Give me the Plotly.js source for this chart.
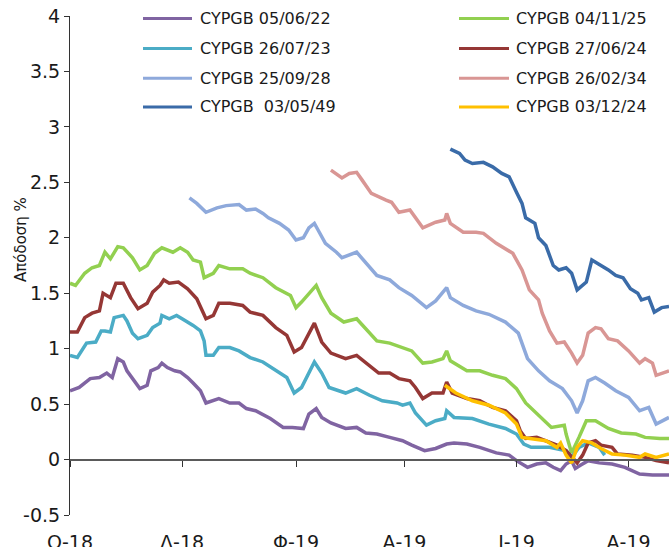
<!DOCTYPE html>
<html>
<head>
<meta charset="utf-8">
<script src="https://cdn.plot.ly/plotly-3.0.1.min.js"></script>
<style>html,body{margin:0;padding:0;background:#fff;}#chart{width:669px;height:547px;}</style>
</head>
<body>
<div id="chart"></div>
<script>
// ---- Data ----
const bondNames = ["CYPGB 05/06/22","CYPGB 04/11/25","CYPGB 26/07/23","CYPGB 27/06/24",
                   "CYPGB 25/09/28","CYPGB 26/02/34","CYPGB\u00a0 03/05/49","CYPGB 03/12/24"];

const dates_220605 = ["2018-10-01","2018-10-06","2018-10-12","2018-10-17","2018-10-21","2018-10-24","2018-10-27","2018-10-30","2018-11-01","2018-11-04","2018-11-08","2018-11-12","2018-11-14","2018-11-18","2018-11-20","2018-11-23","2018-11-27","2018-11-30","2018-12-04","2018-12-07","2018-12-11","2018-12-14","2018-12-21","2018-12-27","2019-01-01","2019-01-05","2019-01-10","2019-01-18","2019-01-25","2019-01-30","2019-02-05","2019-02-08","2019-02-12","2019-02-15","2019-02-20","2019-02-28","2019-03-06","2019-03-11","2019-03-17","2019-03-24","2019-03-31","2019-04-05","2019-04-12","2019-04-18","2019-04-24","2019-04-28","2019-05-05","2019-05-12","2019-05-21","2019-05-28","2019-06-01","2019-06-07","2019-06-12","2019-06-17","2019-06-21","2019-06-25","2019-06-28","2019-07-01","2019-07-03","2019-07-06","2019-07-10","2019-07-16","2019-07-23","2019-07-30","2019-08-07","2019-08-14","2019-08-23"];
const yields_220605 = [0.62,0.65,0.73,0.74,0.78,0.74,0.91,0.88,0.80,0.73,0.64,0.67,0.80,0.83,0.87,0.83,0.80,0.79,0.74,0.69,0.62,0.51,0.55,0.51,0.51,0.46,0.44,0.37,0.29,0.29,0.28,0.41,0.46,0.38,0.33,0.28,0.29,0.24,0.23,0.20,0.17,0.13,0.08,0.10,0.14,0.15,0.14,0.11,0.06,0.04,-0.01,-0.07,-0.04,-0.03,-0.07,-0.10,-0.04,-0.01,-0.08,-0.05,-0.01,-0.03,-0.04,-0.07,-0.13,-0.14,-0.14];

const dates_251104 = ["2018-10-01","2018-10-04","2018-10-09","2018-10-13","2018-10-17","2018-10-20","2018-10-23","2018-10-27","2018-10-30","2018-11-04","2018-11-08","2018-11-12","2018-11-16","2018-11-20","2018-11-26","2018-11-30","2018-12-04","2018-12-07","2018-12-11","2018-12-13","2018-12-18","2018-12-21","2018-12-27","2019-01-03","2019-01-07","2019-01-14","2019-01-21","2019-01-29","2019-02-01","2019-02-04","2019-02-12","2019-02-15","2019-02-20","2019-02-27","2019-03-06","2019-03-11","2019-03-17","2019-03-24","2019-03-31","2019-04-05","2019-04-11","2019-04-16","2019-04-22","2019-04-24","2019-04-26","2019-05-05","2019-05-12","2019-05-19","2019-05-26","2019-06-01","2019-06-06","2019-06-13","2019-06-20","2019-06-27","2019-06-28","2019-07-01","2019-07-03","2019-07-05","2019-07-09","2019-07-14","2019-07-21","2019-07-28","2019-08-05","2019-08-10","2019-08-18","2019-08-23"];
const yields_251104 = [1.59,1.57,1.68,1.73,1.75,1.87,1.81,1.92,1.91,1.82,1.71,1.75,1.86,1.91,1.87,1.91,1.87,1.80,1.78,1.64,1.68,1.75,1.72,1.72,1.68,1.64,1.55,1.48,1.37,1.42,1.57,1.46,1.32,1.24,1.27,1.18,1.07,1.05,1.01,0.98,0.87,0.88,0.91,0.98,0.89,0.80,0.80,0.76,0.73,0.64,0.51,0.40,0.29,0.31,0.23,0.06,0.14,0.20,0.35,0.35,0.28,0.24,0.23,0.20,0.19,0.19];

const dates_230726 = ["2018-10-01","2018-10-05","2018-10-10","2018-10-15","2018-10-18","2018-10-20","2018-10-23","2018-10-25","2018-10-30","2018-11-01","2018-11-04","2018-11-07","2018-11-12","2018-11-15","2018-11-19","2018-11-20","2018-11-24","2018-11-28","2018-12-01","2018-12-07","2018-12-11","2018-12-13","2018-12-14","2018-12-18","2018-12-21","2018-12-27","2019-01-01","2019-01-07","2019-01-14","2019-01-21","2019-01-27","2019-01-31","2019-02-04","2019-02-11","2019-02-15","2019-02-19","2019-02-28","2019-03-06","2019-03-13","2019-03-20","2019-03-28","2019-03-31","2019-04-04","2019-04-07","2019-04-13","2019-04-18","2019-04-23","2019-04-24","2019-04-28","2019-05-08","2019-05-17","2019-05-26","2019-06-01","2019-06-05","2019-06-09","2019-06-19","2019-06-28","2019-07-01","2019-07-05","2019-07-10","2019-07-16","2019-07-19"];
const yields_230726 = [0.94,0.92,1.05,1.06,1.16,1.16,1.15,1.28,1.30,1.25,1.14,1.09,1.12,1.19,1.23,1.30,1.27,1.30,1.27,1.21,1.16,1.07,0.94,0.94,1.01,1.01,0.98,0.92,0.88,0.80,0.74,0.60,0.65,0.88,0.78,0.65,0.60,0.64,0.58,0.53,0.51,0.49,0.51,0.42,0.31,0.35,0.37,0.44,0.38,0.37,0.32,0.28,0.23,0.14,0.11,0.11,0.08,0.02,0.11,0.15,0.11,0.04];

const dates_240627 = ["2018-10-01","2018-10-05","2018-10-09","2018-10-13","2018-10-17","2018-10-19","2018-10-23","2018-10-26","2018-10-30","2018-11-03","2018-11-07","2018-11-12","2018-11-15","2018-11-19","2018-11-21","2018-11-24","2018-11-29","2018-12-04","2018-12-09","2018-12-12","2018-12-14","2018-12-18","2018-12-21","2018-12-27","2019-01-03","2019-01-07","2019-01-14","2019-01-21","2019-01-27","2019-01-31","2019-02-04","2019-02-11","2019-02-15","2019-02-20","2019-02-28","2019-03-06","2019-03-13","2019-03-18","2019-03-24","2019-03-29","2019-04-04","2019-04-07","2019-04-11","2019-04-16","2019-04-22","2019-04-24","2019-04-27","2019-05-05","2019-05-12","2019-05-19","2019-05-26","2019-06-01","2019-06-03","2019-06-06","2019-06-12","2019-06-17","2019-06-23","2019-06-28","2019-07-01","2019-07-04","2019-07-07","2019-07-10","2019-07-14","2019-07-17","2019-07-23","2019-07-26","2019-08-03","2019-08-10","2019-08-16","2019-08-23"];
const yields_240627 = [1.15,1.15,1.28,1.32,1.34,1.50,1.46,1.59,1.59,1.46,1.36,1.41,1.51,1.57,1.62,1.59,1.60,1.54,1.45,1.33,1.27,1.30,1.41,1.41,1.39,1.33,1.30,1.19,1.12,0.97,1.01,1.23,1.06,0.96,0.91,0.94,0.85,0.78,0.78,0.73,0.71,0.65,0.55,0.60,0.60,0.70,0.60,0.55,0.53,0.47,0.44,0.35,0.26,0.19,0.20,0.17,0.13,0.08,0.02,-0.03,0.04,0.15,0.17,0.13,0.11,0.05,0.04,0.02,-0.01,-0.03];

const dates_280925 = ["2018-12-05","2018-12-09","2018-12-14","2018-12-20","2018-12-25","2019-01-01","2019-01-05","2019-01-10","2019-01-14","2019-01-17","2019-01-23","2019-01-28","2019-02-01","2019-02-05","2019-02-08","2019-02-11","2019-02-13","2019-02-17","2019-02-23","2019-02-26","2019-03-06","2019-03-11","2019-03-17","2019-03-24","2019-03-29","2019-04-05","2019-04-13","2019-04-18","2019-04-24","2019-04-26","2019-05-03","2019-05-10","2019-05-17","2019-05-26","2019-06-02","2019-06-07","2019-06-13","2019-06-19","2019-06-26","2019-07-01","2019-07-04","2019-07-07","2019-07-10","2019-07-14","2019-07-19","2019-07-25","2019-08-01","2019-08-07","2019-08-12","2019-08-16","2019-08-23"];
const yields_280925 = [2.36,2.31,2.23,2.27,2.29,2.30,2.25,2.26,2.22,2.18,2.13,2.07,1.98,2.00,2.09,2.13,2.07,1.95,1.87,1.82,1.87,1.77,1.66,1.62,1.55,1.48,1.37,1.43,1.55,1.46,1.39,1.34,1.31,1.24,1.14,0.91,0.80,0.71,0.64,0.53,0.42,0.53,0.71,0.74,0.69,0.62,0.56,0.44,0.47,0.32,0.38];

const dates_340226 = ["2019-02-20","2019-02-26","2019-03-02","2019-03-06","2019-03-09","2019-03-14","2019-03-22","2019-03-25","2019-03-29","2019-04-04","2019-04-11","2019-04-18","2019-04-23","2019-04-24","2019-04-26","2019-05-03","2019-05-10","2019-05-14","2019-05-21","2019-05-26","2019-05-30","2019-06-04","2019-06-08","2019-06-13","2019-06-15","2019-06-19","2019-06-23","2019-06-27","2019-07-01","2019-07-04","2019-07-07","2019-07-10","2019-07-14","2019-07-17","2019-07-21","2019-07-26","2019-08-01","2019-08-07","2019-08-10","2019-08-14","2019-08-16","2019-08-23"];
const yields_340226 = [2.61,2.54,2.58,2.59,2.52,2.40,2.34,2.32,2.23,2.25,2.09,2.14,2.16,2.22,2.13,2.05,2.05,2.04,1.95,1.90,1.86,1.71,1.53,1.44,1.32,1.16,1.05,1.06,0.96,0.87,0.94,1.14,1.19,1.18,1.09,1.07,0.98,0.87,0.91,0.87,0.76,0.80];

const dates_490503 = ["2019-04-26","2019-05-01","2019-05-04","2019-05-08","2019-05-14","2019-05-19","2019-05-24","2019-05-28","2019-06-01","2019-06-04","2019-06-06","2019-06-11","2019-06-13","2019-06-17","2019-06-21","2019-06-24","2019-06-28","2019-07-01","2019-07-04","2019-07-07","2019-07-09","2019-07-12","2019-07-17","2019-07-21","2019-07-25","2019-07-29","2019-08-02","2019-08-06","2019-08-08","2019-08-12","2019-08-15","2019-08-19","2019-08-23"];
const yields_490503 = [2.80,2.76,2.70,2.67,2.68,2.64,2.58,2.55,2.41,2.31,2.18,2.13,2.00,1.93,1.75,1.71,1.73,1.68,1.53,1.57,1.60,1.80,1.75,1.71,1.66,1.64,1.54,1.50,1.44,1.46,1.33,1.37,1.38];

const dates_241203 = ["2019-04-23","2019-04-29","2019-05-08","2019-05-17","2019-05-26","2019-06-01","2019-06-04","2019-06-09","2019-06-17","2019-06-23","2019-06-25","2019-06-28","2019-07-01","2019-07-04","2019-07-07","2019-07-12","2019-07-17","2019-07-23","2019-07-30","2019-08-07","2019-08-10","2019-08-16","2019-08-23"];
const yields_241203 = [0.67,0.60,0.53,0.49,0.42,0.32,0.20,0.19,0.17,0.11,0.15,0.04,-0.03,0.11,0.17,0.15,0.10,0.05,0.04,0.02,0.05,0.02,0.05];

const lineColors = ["#8064A2","#92D050","#4BACC6","#953735","#8EA9DB","#D99694","#3A6BA8","#FFC000"];

const yTickVals = [-0.5,0,0.5,1,1.5,2,2.5,3,3.5,4];
const yTickText = ["-0.5","0","0.5","1","1.5","2","2.5","3","3.5","4"];
const xTickVals = ["2018-10-01","2018-12-01","2019-02-01","2019-04-01","2019-06-01","2019-08-01"];
const xTickText = ["\u039F-18","\u0394-18","\u03A6-19","\u0391-19","\u0399-19","\u0391-19"];
const xRange = ["2018-10-01","2019-08-23"];
const yRange = [-0.5, 4];
const yTitle = "\u0391\u03C0\u03CC\u03B4\u03BF\u03C3\u03B7 %";

// ---- Build traces ----
const seriesX = [dates_220605,dates_251104,dates_230726,dates_240627,dates_280925,dates_340226,dates_490503,dates_241203];
const seriesY = [yields_220605,yields_251104,yields_230726,yields_240627,yields_280925,yields_340226,yields_490503,yields_241203];

const traces = seriesX.map((xs, i) => ({
  type: 'scatter', mode: 'lines', name: bondNames[i],
  x: xs, y: seriesY[i],
  line: {color: lineColors[i], width: 3.5},
  showlegend: false, hoverinfo: 'skip'
}));

// ---- Layout geometry ----
const W = 669, H = 547;
const M = {l: 70, r: 0, t: 16, b: 32};
const pw = W - M.l - M.r, ph = H - M.t - M.b;
const px2paperX = px => (px - M.l) / pw;
const px2paperY = py => (H - M.b - py) / ph;

const font = "DejaVu Sans, Verdana, sans-serif";

// manual legend (2 columns x 4 rows, row-wise order as the series)
const legendCols = [{x0: 143, x1: 192, tx: 198}, {x0: 459, x1: 509, tx: 514}];
const legendRows = [18.5, 48.5, 78.3, 107];
const shapes = [];
const annotations = [];
bondNames.forEach((nm, i) => {
  const c = legendCols[i % 2], r = legendRows[Math.floor(i / 2)];
  shapes.push({type: 'line', xref: 'paper', yref: 'paper',
    x0: px2paperX(c.x0), x1: px2paperX(c.x1), y0: px2paperY(r), y1: px2paperY(r),
    line: {color: lineColors[i], width: 3}});
  annotations.push({xref: 'paper', yref: 'paper', x: px2paperX(c.tx), y: px2paperY(r),
    xanchor: 'left', yanchor: 'middle', showarrow: false, text: nm,
    font: {family: font, size: 16, color: '#1a1a1a'}});
});
annotations.push({xref: 'paper', yref: 'paper', x: px2paperX(21), y: px2paperY(239),
  xanchor: 'center', yanchor: 'middle', showarrow: false, textangle: -90, text: yTitle,
  font: {family: font, size: 15, color: '#1a1a1a'}});

const zeroPos = (0 - yRange[0]) / (yRange[1] - yRange[0]);

const layout = {
  width: W, height: H,
  margin: M,
  paper_bgcolor: '#fff', plot_bgcolor: '#fff',
  font: {family: font, color: '#1a1a1a'},
  showlegend: false,
  xaxis: {
    type: 'date', range: xRange, anchor: 'free', position: zeroPos,
    showline: true, linecolor: '#5a5a5a', linewidth: 2,
    showgrid: false, zeroline: false,
    ticks: 'outside', ticklen: 6, tickwidth: 1, tickcolor: '#333',
    tickvals: xTickVals, ticktext: xTickText,
    tickfont: {family: font, size: 19, color: '#1a1a1a'},
    ticklabelstandoff: 60
  },
  yaxis: {
    range: yRange, showgrid: false, zeroline: false,
    showline: true, linecolor: '#333', linewidth: 1,
    ticks: 'outside', ticklen: 5, tickwidth: 1, tickcolor: '#333',
    tickvals: yTickVals, ticktext: yTickText,
    tickfont: {family: font, size: 19, color: '#1a1a1a'}
  },
  shapes: shapes,
  annotations: annotations
};

Plotly.newPlot('chart', traces, layout, {displayModeBar: false, staticPlot: true});
</script>
</body>
</html>
